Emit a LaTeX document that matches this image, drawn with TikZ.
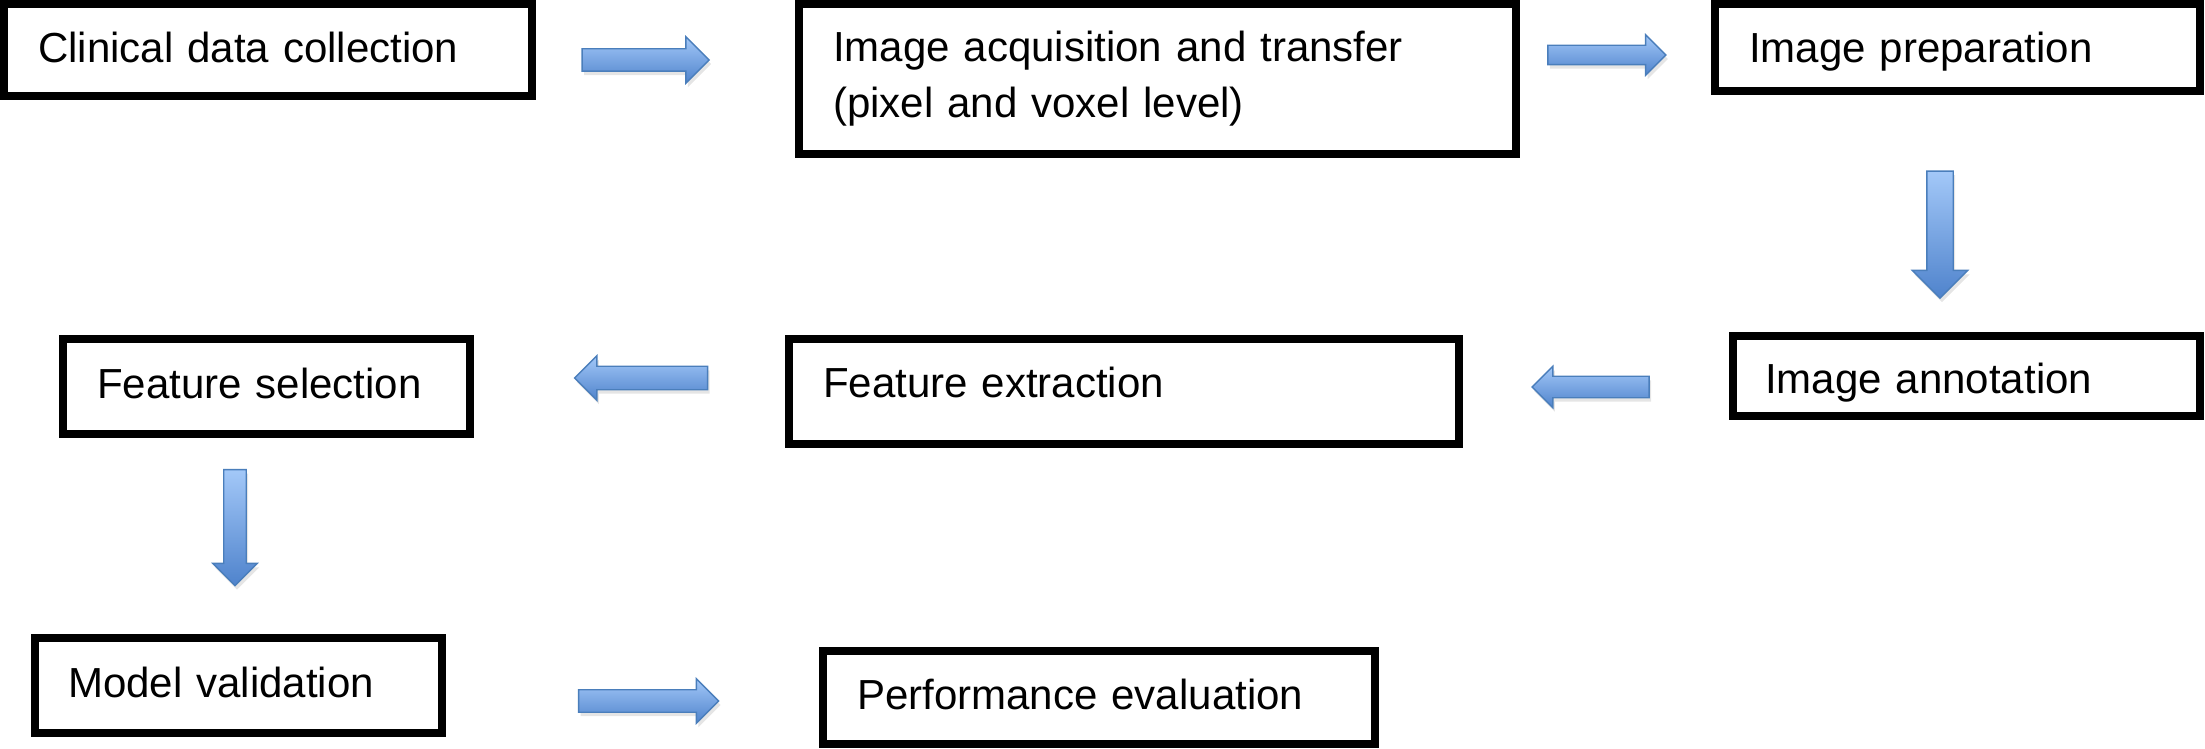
\documentclass[tikz,border=0pt]{standalone}
\usepackage{fontspec}
\setmainfont{Liberation Sans}
\usetikzlibrary{shapes.arrows,shadows}

\definecolor{arrowtop}{HTML}{A3C8F8}
\definecolor{arrowbot}{HTML}{4F83CC}
\definecolor{arrowline}{HTML}{4A7EBB}

\tikzset{
  stepbox/.style={draw, rectangle, line width=0.08cm, anchor=north west,
                  align=left, inner xsep=0.34cm, inner ysep=0pt,
                  font=\fontsize{11.95}{15.9}\selectfont},
  oneline/.style={text height=0.31cm, text depth=#1},
  oneline/.default=0.07cm,
  flowarrow/.style={single arrow, draw=arrowline, line width=0.4pt,
                    top color=arrowtop, bottom color=arrowbot,
                    single arrow tip angle=90,
                    single arrow head indent=0pt,
                    drop shadow={shadow xshift=0.02cm, shadow yshift=-0.04cm,
                                 opacity=0.25, fill=black!40}}
}

\begin{document}
\begin{tikzpicture}[x=0.01cm, y=-0.01cm]
  \useasboundingbox (0,0) rectangle (2205,749);

  % boxes, top row
  \node[stepbox, oneline, text width=4.60cm, minimum height=0.92cm] (clinical) at (0,0)
       {Clinical data collection};
  \node[stepbox, text width=6.49cm, minimum height=1.50cm] (acquisition) at (795,0)
       {Image acquisition and transfer\\(pixel and voxel level)};
  \node[stepbox, oneline=0.02cm, text width=4.17cm, minimum height=0.87cm] (preparation) at (1711,0)
       {Image preparation};
  % middle row
  \node[stepbox, oneline=0cm, text height=0.34cm, text width=4.03cm, minimum height=0.80cm, inner xsep=0.32cm] (annotation) at (1729,332)
       {Image annotation};
  \node[stepbox, oneline=0.20cm, text width=6.02cm, minimum height=1.05cm] (extraction) at (785,335)
       {Feature extraction};
  \node[stepbox, oneline, text width=3.39cm, minimum height=0.95cm] (selection) at (59,335)
       {Feature selection};
  % bottom row
  \node[stepbox, oneline, text width=3.41cm, minimum height=0.95cm, inner xsep=0.33cm] (validation) at (31,634)
       {Model validation};
  \node[stepbox, oneline, text width=4.84cm, minimum height=0.93cm] (evaluation) at (819,647)
       {Performance evaluation};

  % block arrows
  \node[flowarrow, minimum height=1.27cm, inner sep=0.105cm, single arrow head extend=0.12cm] (clin-acq) at (640,60) {};
  \node[flowarrow, minimum height=1.18cm, inner sep=0.09cm, single arrow head extend=0.105cm] (acq-prep) at (1602,55) {};
  \node[flowarrow, minimum height=1.27cm, inner sep=0.125cm, single arrow head extend=0.145cm, shape border rotate=270] (prep-ann) at (1940,228) {};
  \node[flowarrow, minimum height=1.17cm, inner sep=0.10cm, single arrow head extend=0.10cm, shape border rotate=180] (ann-ext) at (1596,387) {};
  \node[flowarrow, minimum height=1.33cm, inner sep=0.11cm, single arrow head extend=0.105cm, shape border rotate=180] (ext-sel) at (647,378) {};
  \node[flowarrow, minimum height=1.16cm, inner sep=0.105cm, single arrow head extend=0.11cm, shape border rotate=270] (sel-val) at (235,522) {};
  \node[flowarrow, minimum height=1.40cm, inner sep=0.105cm, single arrow head extend=0.11cm] (val-eval) at (643,701) {};
\end{tikzpicture}
\end{document}
